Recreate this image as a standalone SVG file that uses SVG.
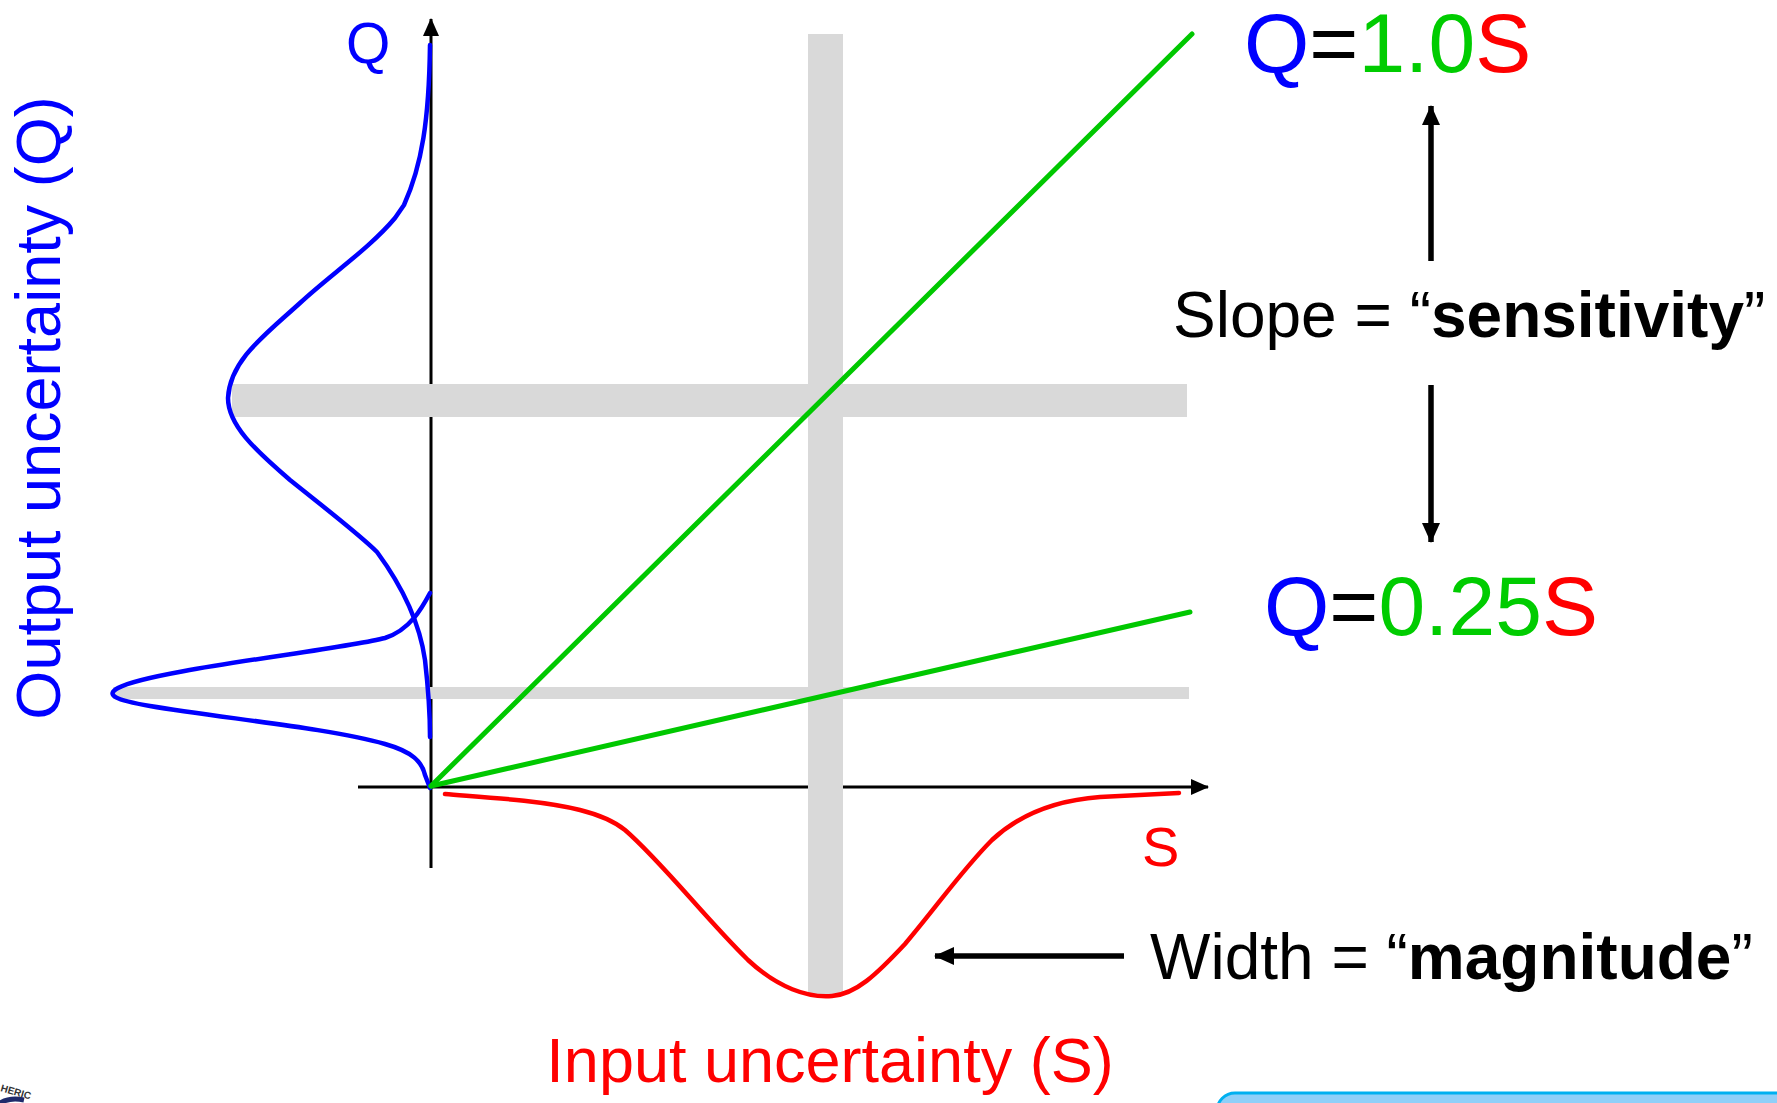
<svg xmlns="http://www.w3.org/2000/svg" width="1777" height="1103" viewBox="0 0 1777 1103">
<style>
  text { font-family: "Liberation Sans", Arial, sans-serif; }
  .axis { stroke: #000; stroke-width: 3; fill: none; }
  .band { fill: #D9D9D9; }
  .blue { stroke: #0000FF; stroke-width: 4.5; fill: none; stroke-linecap: round; stroke-linejoin: round; }
  .red { stroke: #FF0000; stroke-width: 4.5; fill: none; stroke-linecap: round; stroke-linejoin: round; }
  .green { stroke: #00C800; stroke-width: 5; fill: none; stroke-linecap: round; }
  .arr { stroke: #000; stroke-width: 5.5; fill: none; }
  .b { fill: #0000FF; } .r { fill: #FF0000; } .g { fill: #00CC00; } .k { fill: #000; }
</style>
<defs>
  <marker id="axhead" markerUnits="userSpaceOnUse" markerWidth="18" markerHeight="18" viewBox="0 0 18 18" refX="17" refY="9" orient="auto">
    <path d="M0,1 L18,9 L0,17 Z" fill="#000"/>
  </marker>
  <marker id="bighead" markerUnits="userSpaceOnUse" markerWidth="20" markerHeight="20" viewBox="0 0 20 20" refX="19" refY="10" orient="auto">
    <path d="M0,1 L20,10 L0,19 Z" fill="#000"/>
  </marker>
</defs>
<rect width="1777" height="1103" fill="#fff"/>

<g id="axes">
  <line class="axis" x1="431" y1="868" x2="431" y2="19" marker-end="url(#axhead)"/>
  <line class="axis" x1="358" y1="787" x2="1208" y2="787" marker-end="url(#axhead)"/>
</g>

<g id="bands">
  <rect class="band" x="808" y="34" width="35" height="960"/>
  <rect class="band" x="232" y="384" width="955" height="33"/>
  <rect class="band" x="113" y="687" width="1076" height="12"/>
</g>

<g id="output-distributions">
  <path class="blue" d="M430,45 C429,120 422,165 404,205 L395,218 C370,248 330,275 300,303 C265,335 230,360 228,398 C228,425 255,450 290,480 C330,512 360,535 377,552 C405,590 420,625 425,660 C429,695 430,720 430,737"/>
  <path class="blue" d="M430,593 C422,608 410,630 385,638 C340,650 150,670 118,688 C105,695 115,700 150,706 C220,718 330,728 385,744 C413,752 422,762 425,775 L430,788"/>
</g>

<g id="input-distribution">
  <path class="red" d="M445,794 C480,797 540,800 580,810 C600,815 615,822 625,830 C662,862 705,918 748,960 C778,988 808,998 832,996 C856,994 876,975 905,944 C938,905 962,870 992,840 C1022,812 1060,800 1100,797 L1179,793"/>
</g>

<g id="slope-lines">
  <line class="green" x1="431" y1="786" x2="1192" y2="34"/>
  <line class="green" x1="431" y1="786" x2="1190" y2="612"/>
</g>

<g id="connectors">
  <line class="arr" x1="1431" y1="261" x2="1431" y2="106" marker-end="url(#bighead)"/>
  <line class="arr" x1="1431" y1="385" x2="1431" y2="542" marker-end="url(#bighead)"/>
  <line class="arr" x1="1124" y1="956" x2="935" y2="956" marker-end="url(#bighead)"/>
</g>

<g id="labels">
  <text x="346" y="63" font-size="57" class="b">Q</text>
  <text x="1142" y="866" font-size="56" class="r">S</text>
  <text transform="translate(60,408) rotate(-90)" text-anchor="middle" font-size="63" class="b">Output uncertainty (Q)</text>
  <text x="830" y="1082" text-anchor="middle" font-size="63" class="r">Input uncertainty (S)</text>
</g>

<g id="eq-high">
  <text x="1244" y="72" font-size="84"><tspan class="b">Q</tspan><tspan class="k">=</tspan><tspan class="g">1.0</tspan><tspan class="r">S</tspan></text>
</g>
<g id="eq-low">
  <text x="1264" y="635" font-size="84"><tspan class="b">Q</tspan><tspan class="k">=</tspan><tspan class="g">0.25</tspan><tspan class="r">S</tspan></text>
</g>
<g id="slope-label">
  <text x="1173" y="337" font-size="64" class="k">Slope = “<tspan font-weight="bold">sensitivity</tspan>”</text>
</g>
<g id="width-label">
  <text x="1150" y="979" font-size="64" class="k">Width = “<tspan font-weight="bold">magnitude</tspan>”</text>
</g>

<g id="footer">
  <rect x="1217" y="1093" width="600" height="60" rx="18" fill="#8FCFF8" stroke="#00B0F0" stroke-width="3"/>
  <path d="M0,1103 Q10,1097 24,1100" stroke="#1F2A6B" stroke-width="5" fill="none"/>
  <text transform="translate(0,1091) rotate(16)" font-size="10" font-weight="bold" fill="#333">HERIC</text>
</g>
</svg>
